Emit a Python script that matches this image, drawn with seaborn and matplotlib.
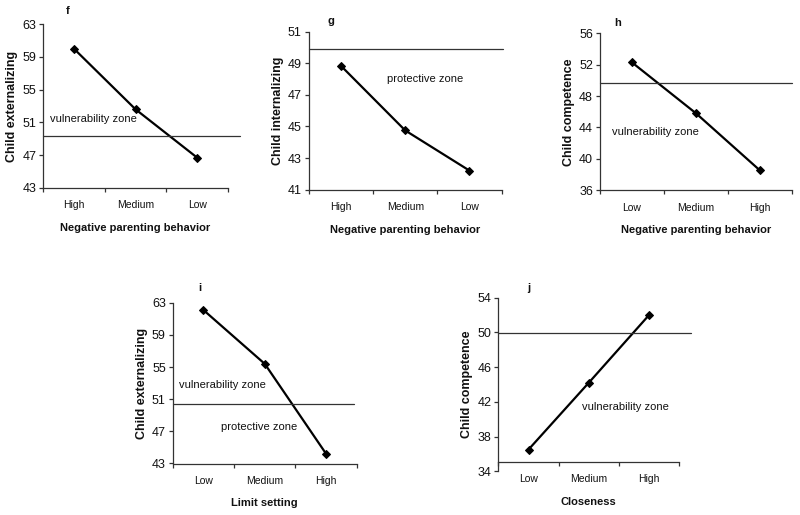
import matplotlib
matplotlib.use("Agg")
import matplotlib.pyplot as plt
import seaborn as sns
import pandas as pd

sns.set_theme(style="white")
plt.rcParams['font.family'] = ['Liberation Sans', 'DejaVu Sans']

# ---- data ----
levels_neg = ["High", "Medium", "Low"]
levels_neg_h = ["Low", "Medium", "High"]
levels_limit = ["Low", "Medium", "High"]
levels_close = ["Low", "Medium", "High"]

f_values = [60.0, 52.6, 46.7]
g_values = [48.85, 44.75, 42.2]
h_values = [52.3, 45.8, 38.5]
i_values = [62.1, 55.4, 44.2]
j_values = [36.5, 44.2, 52.0]

f_ref = [49.4]
g_ref = [49.9]
h_ref = [49.7]
i_ref = [50.35]
j_ref = [49.9]

panels = [
    dict(letter="f", cats=levels_neg, vals=f_values, refs=f_ref, ylim=(43, 63), yticks=[43, 47, 51, 55, 59, 63],
         ylabel="Child externalizing", xlabel="Negative parenting behavior",
         rect=[0.054, 0.635, 0.231, 0.318], refx=[1.065], letpos=(0.13, 1.08),
         notes=[("vulnerability zone", -0.39, 51.4)], cross=None),
    dict(letter="g", cats=levels_neg, vals=g_values, refs=g_ref, ylim=(41, 51), yticks=[41, 43, 45, 47, 49, 51],
         ylabel="Child internalizing", xlabel="Negative parenting behavior",
         rect=[0.386, 0.632, 0.241, 0.306], refx=[1.005], letpos=(0.114, 1.068),
         notes=[("protective zone", 0.71, 48.0)], cross=None),
    dict(letter="h", cats=levels_neg_h, vals=h_values, refs=h_ref, ylim=(36, 56), yticks=[36, 40, 44, 48, 52, 56],
         ylabel="Child competence", xlabel="Negative parenting behavior",
         rect=[0.75, 0.631, 0.24, 0.304], refx=[1.0], letpos=(0.094, 1.066),
         notes=[("vulnerability zone", -0.31, 43.4)], cross=None),
    dict(letter="i", cats=levels_limit, vals=i_values, refs=i_ref, ylim=(43, 63), yticks=[43, 47, 51, 55, 59, 63],
         ylabel="Child externalizing", xlabel="Limit setting",
         rect=[0.216, 0.100, 0.230, 0.312], refx=[0.984], letpos=(0.148, 1.093),
         notes=[("vulnerability zone", -0.40, 52.75), ("protective zone", 0.28, 47.6)], cross=None),
    dict(letter="j", cats=levels_close, vals=j_values, refs=j_ref, ylim=(34, 54), yticks=[34, 38, 42, 46, 50, 54],
         ylabel="Child competence", xlabel="Closeness",
         rect=[0.623, 0.085, 0.226, 0.337], refx=[1.065], letpos=(0.17, 1.055),
         notes=[("vulnerability zone", 0.89, 41.4)], cross=35.1),
]

fig = plt.figure(figsize=(8.0, 5.15), dpi=100)
fig.patch.set_facecolor("white")

txtc = "#111111"
for p in panels:
    ax = fig.add_axes(p["rect"])
    df = pd.DataFrame({"level": p["cats"], "score": p["vals"]})
    sns.lineplot(data=df, x="level", y="score", sort=False, ax=ax, color="black",
                 linewidth=1.6, marker="D", markersize=4.5, markeredgecolor="black")
    if p["cross"] is not None:
        ax.spines["bottom"].set_position(("data", p["cross"]))
    for r, xm in zip(p["refs"], p["refx"]):
        ax.axhline(r, xmin=0, xmax=xm, color="#333333", linewidth=0.9, clip_on=False)
    ax.set_xlim(-0.5, 2.5)
    ax.set_ylim(*p["ylim"])
    ax.set_yticks(p["yticks"])
    ax.set_xticks([0, 1, 2])
    ax.set_xticklabels(p["cats"], fontsize=7.5)
    ax.set_xticks([-0.5, 0.5, 1.5, 2.5], minor=True)
    ax.tick_params(which="both", bottom=True, left=True)
    ax.tick_params(axis="x", which="major", length=0, pad=9, labelcolor=txtc, labelsize=7.5)
    ax.tick_params(axis="x", which="minor", length=3, width=0.9, direction="out", color="#333333")
    ax.tick_params(axis="y", which="major", length=3, width=0.9, direction="out", labelsize=9,
                   color="#333333", labelcolor=txtc, pad=2)
    for s in ["top", "right"]:
        ax.spines[s].set_visible(False)
    for s in ["left", "bottom"]:
        ax.spines[s].set_color("#333333")
        ax.spines[s].set_linewidth(0.9)
    ax.set_ylabel(p["ylabel"], fontsize=9, fontweight="bold", color=txtc, labelpad=3)
    ax.set_xlabel(p["xlabel"], fontsize=8, fontweight="bold", color=txtc, labelpad=9)
    ax.text(p["letpos"][0], p["letpos"][1], p["letter"], transform=ax.transAxes,
            fontsize=8, fontweight="bold", color=txtc, ha="center", va="center")
    for txt, xx, yy in p["notes"]:
        ax.text(xx, yy, txt, fontsize=8, color=txtc, ha="left", va="center")
    ax.grid(False)

fig.savefig("out.png", dpi=100, facecolor="white")
